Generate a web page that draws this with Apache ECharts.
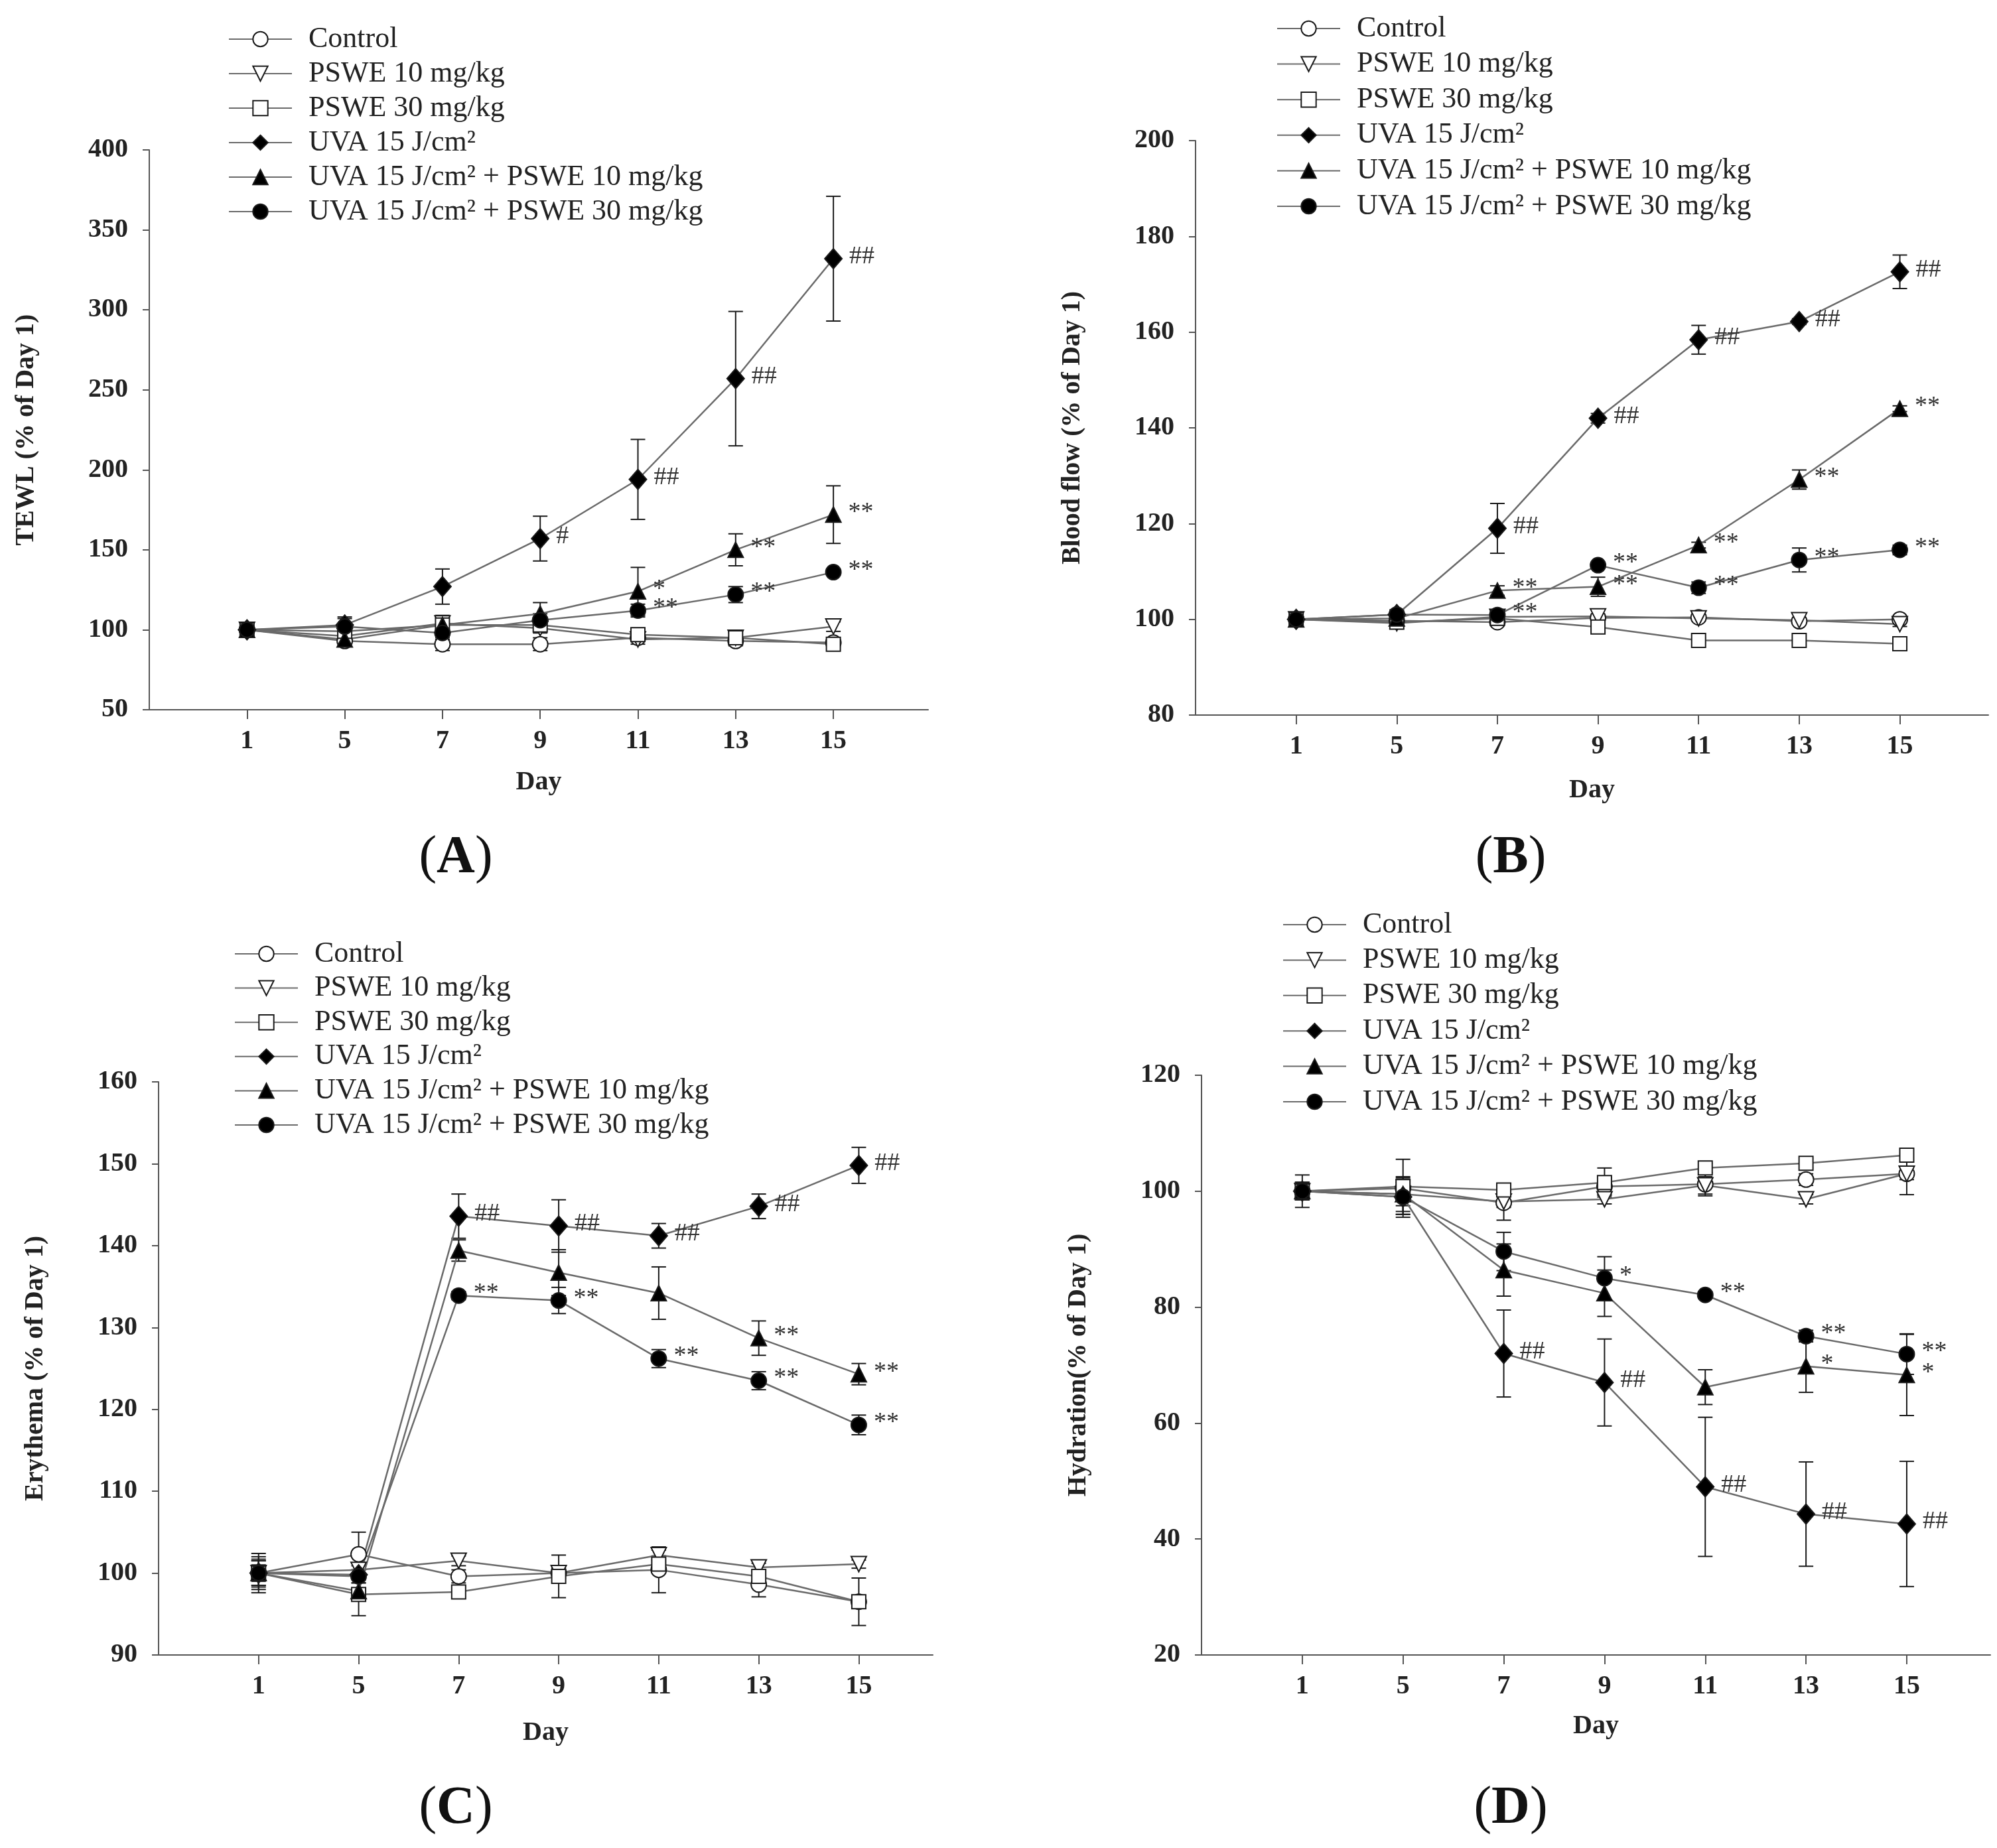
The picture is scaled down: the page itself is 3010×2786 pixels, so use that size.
<!DOCTYPE html>
<html>
<head>
<meta charset="utf-8">
<title>PSWE skin parameters</title>
<script src="https://cdn.jsdelivr.net/npm/echarts@6.0.0/dist/echarts.min.js"></script>
<style>
html, body { margin: 0; padding: 0; background: #fff; }
#main { width: 3010px; height: 2786px; }
</style>
</head>
<body>
<div id="main"></div>
<script>
// x categories (days) and group names
var days = ['1', '5', '7', '9', '11', '13', '15'];
var groupNames = ['Control', 'PSWE 10 mg/kg', 'PSWE 30 mg/kg', 'UVA 15 J/cm²',
  'UVA 15 J/cm² + PSWE 10 mg/kg', 'UVA 15 J/cm² + PSWE 30 mg/kg'];

// (A) TEWL, rows follow groupNames
var tewlMean = [
  [100, 93, 91, 91, 95, 93, 92],
  [100, 96, 104, 101, 94, 95, 102],
  [100, 99, 103, 103, 97, 95, 91],
  [100, 103, 127, 157, 194, 257, 332],
  [100, 94, 103, 110, 124, 150, 172],
  [100, 102, 98, 106, 112, 122, 136]
];
var tewlErr = [
  [2, 3, 4, 4, 2, 3, 2],
  [2, 4, 5, 3, 3, 3, 3],
  [2, 3, 4, 4, 3, 3, 2],
  [2, 5, 11, 14, 25, 42, 39],
  [2, 4, 5, 7, 15, 10, 18],
  [2, 5, 4, 4, 4, 5, 2]
];
var tewlMarks = [null, null, null,
  ['', '', '', '#', '##', '##', '##'],
  ['', '', '', '', '*', '**', '**'],
  ['', '', '', '', '**', '**', '**']];

// (B) Blood flow
var flowMean = [
  [100, 99.7, 99.4, 100.3, 100.4, 99.6, 100],
  [100, 99.2, 100.5, 100.6, 100.2, 99.8, 99],
  [100, 99.4, 100.2, 98.4, 95.6, 95.6, 94.9],
  [100, 101, 119, 142, 158.4, 162.2, 172.6],
  [100, 100.2, 106, 106.8, 115.5, 129.2, 144],
  [100, 101, 100.9, 111.3, 106.6, 112.4, 114.5]
];
var flowErr = [
  [0.5, 0.5, 0.5, 0.5, 0.5, 0.5, 0.5],
  [0.5, 0.6, 0.5, 0.5, 0.5, 0.5, 0.5],
  [0.5, 0.5, 0.5, 0.6, 0.5, 0.5, 0.5],
  [0.5, 1, 5.2, 1, 3, 0.6, 3.5],
  [0.5, 0.6, 1, 2, 0.6, 2, 0.6],
  [0.5, 0.8, 1, 0.6, 1.2, 2.5, 1]
];
var flowMarks = [null, null, null,
  ['', '', '##', '##', '##', '##', '##'],
  ['', '', '**', '**', '**', '**', '**'],
  ['', '', '**', '**', '**', '**', '**']];

// (C) Erythema
var erythemaMean = [
  [100, 102.3, 99.6, 100, 100.4, 98.6, 96.5],
  [100, 100.4, 101.5, 100, 102.2, 100.7, 101.1],
  [100, 97.4, 97.7, 99.6, 101.1, 99.6, 96.5],
  [100, 99.8, 143.6, 142.4, 141.2, 144.8, 149.8],
  [100, 97.8, 139.4, 136.7, 134.2, 128.7, 124.3],
  [100, 99.6, 133.9, 133.3, 126.2, 123.5, 118.1]
];
var erythemaErr = [
  [2, 2.7, 0.8, 0.6, 2.8, 1.5, 0.8],
  [1.5, 0.5, 0.6, 0.6, 0.6, 0.5, 0.5],
  [2.4, 2.6, 0.6, 2.6, 1, 0.8, 2.9],
  [1.7, 0.6, 2.7, 3.2, 1.5, 1.5, 2.2],
  [1.5, 1, 1.3, 2.8, 3.2, 2.1, 1.3],
  [1, 0.8, 0.5, 1.6, 1.1, 1.1, 1.2]
];
var erythemaMarks = [null, null, null,
  ['', '', '##', '##', '##', '##', '##'],
  ['', '', '', '', '', '**', '**'],
  ['', '', '**', '**', '**', '**', '**']];

// (D) Hydration
var hydrationMean = [
  [100, 100.5, 98, 100.8, 101.2, 102, 103],
  [100, 99.5, 98.2, 98.6, 101, 98.6, 103],
  [100, 100.8, 100.2, 101.5, 104, 104.8, 106.2],
  [100, 99, 72, 67, 49, 44.3, 42.6],
  [100, 99.5, 86.4, 82.4, 66.2, 69.8, 68.3],
  [100, 99, 89.6, 85, 82.1, 75, 71.9]
];
var hydrationErr = [
  [2.8, 5, 3, 1.5, 2, 1, 1],
  [1.5, 2, 1, 0.8, 1.5, 0.8, 3.6],
  [1.5, 1.5, 0.8, 2.5, 0.8, 0.8, 1],
  [1.5, 3, 7.5, 7.5, 12, 9, 10.8],
  [1.5, 3, 4.5, 4, 3, 4.5, 7],
  [1.5, 3, 3.3, 3.7, 0.6, 1, 3.5]
];
var hydrationMarks = [null, null, null,
  ['', '', '##', '##', '##', '##', '##'],
  ['', '', '', '', '', '*', '*'],
  ['', '', '', '*', '**', '**', '**']];

var FONT = 'Liberation Serif';

// marker look per group
var groupStyles = [
  { symbol: 'circle', size: 23, fill: '#fff' },
  { symbol: 'triangle', size: 23, fill: '#fff', rotate: 180 },
  { symbol: 'rect', size: 21, fill: '#fff' },
  { symbol: 'diamond', size: [26, 30], fill: '#000' },
  { symbol: 'triangle', size: 23, fill: '#000' },
  { symbol: 'circle', size: 23, fill: '#000' }
];

var panels = [
  { mean: tewlMean, err: tewlErr, marks: tewlMarks, yName: 'TEWL (% of Day 1)',
    yMin: 50, yMax: 400, yStep: 50, xMax: 6.97, xGap: 90,
    grid: { left: 225, top: 226, width: 1174, height: 844 },
    legend: { left: 339, top: 32, gap: 8 }, tag: 'A', tagPos: [687, 1294] },
  { mean: flowMean, err: flowErr, marks: flowMarks, yName: 'Blood flow (% of Day 1)',
    yMin: 80, yMax: 200, yStep: 20, xMax: 6.88, xGap: 94,
    grid: { left: 1802, top: 212, width: 1195, height: 866 },
    legend: { left: 1919, top: 16, gap: 9.6 }, tag: 'B', tagPos: [2277, 1294] },
  { mean: erythemaMean, err: erythemaErr, marks: erythemaMarks, yName: 'Erythema (% of Day 1)',
    yMin: 90, yMax: 160, yStep: 10, xMax: 6.74, xGap: 98,
    grid: { left: 239, top: 1631, width: 1167, height: 864 },
    legend: { left: 348, top: 1411, gap: 7.6 }, tag: 'C', tagPos: [687, 2727] },
  { mean: hydrationMean, err: hydrationErr, marks: hydrationMarks, yName: 'Hydration(% of Day 1)',
    yMin: 20, yMax: 120, yStep: 20, xMax: 6.83, xGap: 88,
    grid: { left: 1811, top: 1621, width: 1189, height: 874 },
    legend: { left: 1928, top: 1367, gap: 9.4 }, tag: 'D', tagPos: [2277, 2727] }
];

function errRender(params, api) {
  var x = api.value(0);
  var lo = api.coord([x, api.value(1)]);
  var hi = api.coord([x, api.value(2)]);
  var w = 11;
  var st = { stroke: '#1a1a1a', lineWidth: 2 };
  return {
    type: 'group',
    children: [
      { type: 'line', shape: { x1: lo[0], y1: lo[1], x2: hi[0], y2: hi[1] }, style: st },
      { type: 'line', shape: { x1: lo[0] - w, y1: lo[1], x2: lo[0] + w, y2: lo[1] }, style: st },
      { type: 'line', shape: { x1: hi[0] - w, y1: hi[1], x2: hi[0] + w, y2: hi[1] }, style: st }
    ]
  };
}

var tickIdx = [0, 1, 2, 3, 4, 5, 6];
var option = {
  backgroundColor: '#fff',
  animation: false,
  grid: [], xAxis: [], yAxis: [], legend: [], series: [], graphic: []
};

panels.forEach(function (p, k) {
  option.grid.push({
    left: p.grid.left, top: p.grid.top, width: p.grid.width, height: p.grid.height,
    containLabel: false, outerBoundsMode: 'none'
  });
  option.xAxis.push({
    type: 'value', gridIndex: k, min: -1, max: p.xMax, interval: 1,
    name: 'Day', nameLocation: 'middle', nameGap: p.xGap,
    nameTextStyle: { fontFamily: FONT, fontWeight: 'bold', fontSize: 40, color: '#222' },
    axisLine: { onZero: false, lineStyle: { color: '#555', width: 2 } },
    axisTick: { show: true, length: 14, customValues: tickIdx, lineStyle: { color: '#555', width: 2 } },
    axisLabel: {
      customValues: tickIdx, margin: 28, fontFamily: FONT, fontWeight: 'bold', fontSize: 40, color: '#222',
      formatter: function (v) { return days[v] !== undefined ? days[v] : ''; }
    },
    splitLine: { show: false }
  });
  option.yAxis.push({
    type: 'value', gridIndex: k, min: p.yMin, max: p.yMax, interval: p.yStep,
    name: p.yName, nameLocation: 'middle', nameGap: 165,
    nameTextStyle: { fontFamily: FONT, fontWeight: 'bold', fontSize: 40, color: '#222' },
    axisLine: { show: true, onZero: false, lineStyle: { color: '#555', width: 2 } },
    axisTick: { show: true, length: 10, lineStyle: { color: '#555', width: 2 } },
    axisLabel: { margin: 32, fontFamily: FONT, fontWeight: 'bold', fontSize: 40, color: '#222' },
    splitLine: { show: false }
  });
  option.legend.push({
    left: p.legend.left, top: p.legend.top, orient: 'vertical',
    itemWidth: 95, itemHeight: 28, itemGap: p.legend.gap, selectedMode: false,
    data: groupNames,
    textStyle: { fontFamily: FONT, fontSize: 44, color: '#222', lineHeight: 44, padding: [0, 0, 0, 20] }
  });

  p.mean.forEach(function (vals, s) {
    var st = groupStyles[s];
    var marks = p.marks[s];
    option.series.push({
      type: 'line', name: groupNames[s], xAxisIndex: k, yAxisIndex: k, z: 3,
      data: vals.map(function (v, i) { return [i, v]; }),
      symbol: st.symbol, symbolSize: st.size, symbolRotate: st.rotate || 0,
      showAllSymbol: true,
      lineStyle: { color: '#6a6a6a', width: 2.5 },
      itemStyle: { color: st.fill, borderColor: '#1a1a1a', borderWidth: 2 },
      label: {
        show: !!marks, position: 'right', distance: 10, offset: [0, -3],
        fontFamily: FONT, fontSize: 38, color: '#333',
        formatter: function (q) { return marks ? marks[q.dataIndex] : ''; }
      },
      emphasis: { disabled: true }
    });
  });

  var errData = [];
  p.mean.forEach(function (vals, s) {
    vals.forEach(function (v, i) {
      errData.push([i, v - p.err[s][i], v + p.err[s][i]]);
    });
  });
  option.series.push({
    type: 'custom', xAxisIndex: k, yAxisIndex: k, z: 2, silent: true,
    renderItem: errRender, data: errData, encode: { x: 0, y: [1, 2] }
  });

  option.graphic.push({
    type: 'text', x: p.tagPos[0], y: p.tagPos[1],
    style: {
      text: '{p|(}{b|' + p.tag + '}{p|)}',
      textAlign: 'center', textVerticalAlign: 'middle',
      rich: {
        p: { fontFamily: FONT, fontSize: 80, fill: '#111' },
        b: { fontFamily: FONT, fontSize: 80, fontWeight: 'bold', fill: '#111' }
      }
    }
  });
});

var chart = echarts.init(document.getElementById('main'));
chart.setOption(option);
window.onresize = function () { chart.resize(); };
</script>
</body>
</html>
